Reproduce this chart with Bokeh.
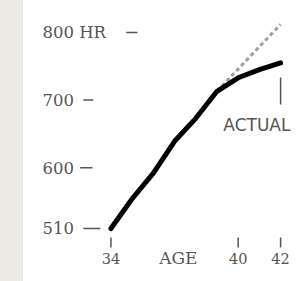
from bokeh.plotting import figure
from bokeh.embed import file_html
from bokeh.resources import INLINE
from bokeh.core.properties import value
from bokeh.models import Range1d

# Data: cumulative home runs by age
ages = [34, 35, 36, 37, 38, 39, 40, 41, 42]
home_runs = [510, 554, 592, 639, 673, 713, 733, 745, 755]
proj_ages = [39, 42]
proj_hr = [713, 812]

y_tick_values = [800, 700, 600, 510]
y_tick_labels = ["800 HR", "700", "600", "510"]
x_tick_values = [34, 40, 42]
x_tick_labels = ["34", "40", "42"]

p = figure(width=288, height=265, output_backend="svg", toolbar_location=None,
           x_range=Range1d(29.17, 42.75), y_range=Range1d(443.4, 835.5),
           min_border=0)
p.axis.visible = False
p.grid.visible = False
p.outline_line_color = None
p.background_fill_alpha = 0
p.border_fill_alpha = 0

serif = value("DejaVu Serif")
sans = value("DejaVu Sans")
gray = "#555555"

# projection (dashed)
p.line(proj_ages, proj_hr, line_color="#a0a0a0", line_width=3, line_dash="4 3")
# actual
p.line(ages, home_runs, line_color="black", line_width=5, line_join="round", line_cap="round")

# y labels
p.text(x=[30.77] * 4, y=y_tick_values, text=y_tick_labels, text_font=serif,
       text_font_size="16.5px", text_color=gray, text_align="left", text_baseline="middle")
p.segment(x0=[34.72, 32.7, 32.55, 32.7], y0=y_tick_values,
          x1=[35.25, 33.17, 33.13, 33.5], y1=y_tick_values, line_color=gray, line_width=1.5)

# x labels
p.text(x=x_tick_values, y=[465.6] * 3, text=x_tick_labels, text_font=serif,
       text_font_size="14.5px", text_color=gray, text_align="center", text_baseline="middle")
p.segment(x0=x_tick_values, y0=[496.7] * 3, x1=x_tick_values, y1=[481.9] * 3,
          line_color=gray, line_width=1.5)
p.text(x=[37.18], y=[465.6], text=["AGE"], text_font=serif, text_font_size="17px",
       text_color=gray, text_align="center", text_baseline="middle")

# actual label
p.text(x=[39.3], y=[662.4], text=["ACTUAL"], text_font=sans, text_font_size="17px",
       text_color=gray, text_align="left", text_baseline="middle")
p.segment(x0=[42], y0=[733.4], x1=[42], y1=[693.5], line_color=gray, line_width=1.5)

html = file_html(p, INLINE)
style = ("<style>html{min-height:100%;background:linear-gradient(to right,#ebebe4 0,"
         "#ebebe4 23px,#ffffff 23px);}body{margin:8px;background:transparent;}</style>")
html = html.replace("</head>", style + "</head>", 1)
open("out.html", "w").write(html)
